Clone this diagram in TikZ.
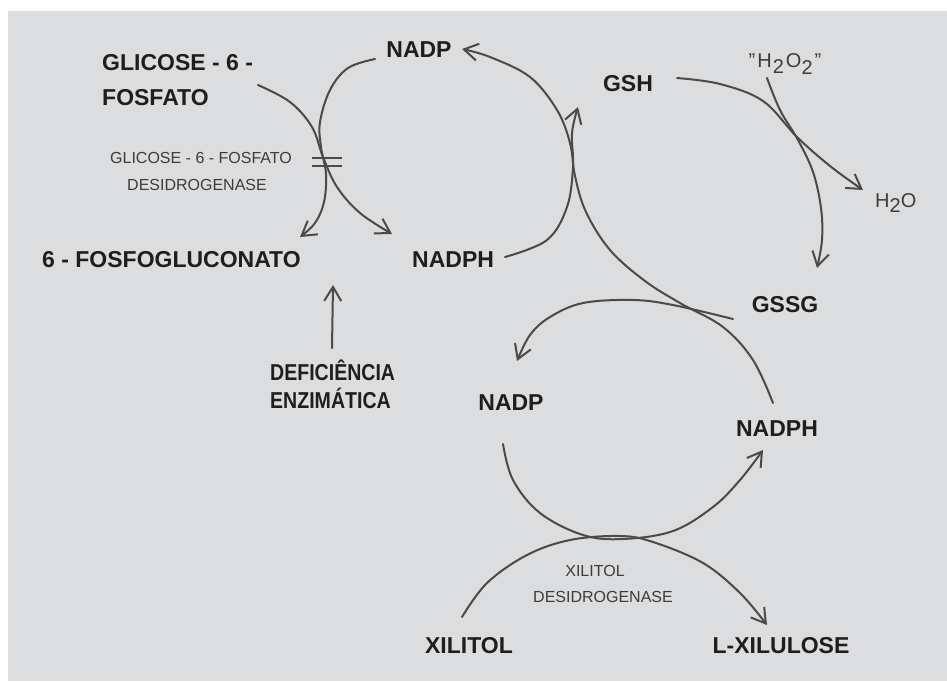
\documentclass[tikz,border=0pt]{standalone}
\usepackage{fontspec}
\setmainfont{Liberation Sans}
\newfontfamily\condfont[FakeStretch=0.85]{Liberation Sans}
\usetikzlibrary{arrows.meta}
\definecolor{bgc}{HTML}{DCDDDF}
\definecolor{inkc}{HTML}{1E1E1E}
\definecolor{linec}{HTML}{4A4A4A}
\definecolor{thinc}{HTML}{3C3C3C}
\tikzset{
  lab/.style={inner sep=0pt, text=inkc, font=\fontsize{23}{26}\selectfont\bfseries},
  small/.style={inner sep=0pt, text=thinc, font=\fontsize{16}{18}\selectfont},
  cond/.style={inner sep=0pt, text=inkc, font=\fontsize{23}{26}\selectfont\condfont\bfseries},
  chem/.style={inner sep=0pt, text=thinc, font=\fontsize{20}{22}\selectfont},
  flow/.style={draw=linec, line width=2pt, line cap=round, line join=round,
    -{Straight Barb[length=14pt,width=17pt,line width=2pt]}},
  eqmark/.style={draw=linec, line width=1.6pt},
}
\begin{document}
\begin{tikzpicture}[x=1pt,y=-1pt]
\useasboundingbox (0,0) rectangle (947,681);
\fill[bgc] (8,11) rectangle (947,681);

% labels
\node[lab, anchor=base west] (g6pa) at (102,70) {GLICOSE - 6 -};
\node[lab, anchor=base west] (g6pb) at (102,105) {FOSFATO};
\node[lab, anchor=base] (nadpA) at (419,57) {NADP};
\node[lab, anchor=base] (gsh) at (628,91) {GSH};
\node[chem, anchor=base] (h2o2) at (785,67) {"\kern2pt H\kern1pt\raisebox{-6pt}{2}\kern2pt O\raisebox{-7pt}{2}\kern2pt"};
\node[chem, anchor=base west] (h2o) at (875,207) {H\raisebox{-5pt}{2}O};
\node[lab, anchor=base] (gssg) at (785,312) {GSSG};
\node[lab, anchor=base west] (fgluc) at (42,267) {6 - FOSFOGLUCONATO};
\node[lab, anchor=base west] (nadphA) at (412,267) {NADPH};
\node[small, anchor=base] (enzAa) at (201,163) {GLICOSE - 6 - FOSFATO};
\node[small, anchor=base] (enzAb) at (197,190) {DESIDROGENASE};
\node[cond, anchor=base west] (defa) at (270,380) {DEFICIÊNCIA};
\node[cond, anchor=base west] (defb) at (270,408) {ENZIMÁTICA};
\node[lab, anchor=base] (nadpB) at (511,410) {NADP};
\node[lab, anchor=base] (nadphB) at (777,436) {NADPH};
\node[lab, anchor=base] (xil) at (469,653) {XILITOL};
\node[lab, anchor=base] (xlu) at (781,653) {L-XILULOSE};
\node[small, anchor=base] (enzBa) at (595,576) {XILITOL};
\node[small, anchor=base] (enzBb) at (603,602) {DESIDROGENASE};

% connector end points
\coordinate (g6pS) at (258,85);   \coordinate (nadphAE) at (392,234);
\coordinate (nadpAS) at (375,59); \coordinate (fglucE) at (300,237);
\coordinate (nadphBS) at (773,403); \coordinate (nadpAE) at (462,49);
\coordinate (nadphAS) at (505,257); \coordinate (gshE) at (578,107);
\coordinate (gssgS) at (733,319); \coordinate (nadpBE) at (517,361);
\coordinate (gshS) at (677,78);   \coordinate (h2oE) at (863,190);
\coordinate (h2o2S) at (767,78);  \coordinate (gssgE) at (817,268);
\coordinate (nadpBS) at (503,444); \coordinate (nadphBE) at (763,450);
\coordinate (xilS) at (462,617);  \coordinate (xluE) at (767,625);
\coordinate (defS) at (332,348);  \coordinate (defE) at (333,285);

% glicose-6-fosfato -> NADPH side
\draw[flow] plot[smooth, tension=0.6] coordinates {(g6pS) (290,102) (312,127) (323,157) (337,187) (360,213) (nadphAE)};
% NADP -> 6-fosfogluconato
\draw[flow] plot[smooth, tension=0.6] coordinates {(nadpAS) (348,68) (330,90) (320,122) (321,147) (326,174) (324,202) (315,223) (fglucE)};
% enzyme block mark
\draw[eqmark] (312,158) -- (342,158);
\draw[eqmark] (312,166) -- (342,166);
% big arc NADPH -> NADP
\draw[flow] plot[smooth, tension=0.6] coordinates {(nadphBS) (753,360) (723,327) (680,303) (645,281) (610,250) (586,212) (575,176) (570,143) (557,110) (530,77) (490,57) (nadpAE)};
% NADPH -> GSH
\draw[flow] plot[smooth, tension=0.6] coordinates {(nadphAS) (547,240) (567,207) (573,167) (572,133) (gshE)};
% GSSG -> NADP (lower)
\draw[flow] plot[smooth, tension=0.6] coordinates {(gssgS) (673,305) (633,300) (583,303) (550,317) (530,335) (nadpBE)};
% GSH -> H2O
\draw[flow] plot[smooth, tension=0.6] coordinates {(gshS) (720,84) (763,101) (797,137) (830,166) (h2oE)};
% H2O2 -> GSSG
\draw[flow] plot[smooth, tension=0.6] coordinates {(h2o2S) (780,110) (798,140) (813,172) (821,208) (822,240) (gssgE)};
% NADP -> NADPH (lower cycle)
\draw[flow] plot[smooth, tension=0.6] coordinates {(nadpBS) (513,480) (540,513) (583,535) (623,539) (673,531) (713,507) (740,480) (nadphBE)};
% xilitol -> L-xilulose
\draw[flow] plot[smooth, tension=0.6] coordinates {(xilS) (487,583) (527,555) (570,540) (620,536) (653,542) (703,563) (740,593) (xluE)};
% deficiencia arrow
\draw[flow] (defS) -- (defE);
\end{tikzpicture}
\end{document}
